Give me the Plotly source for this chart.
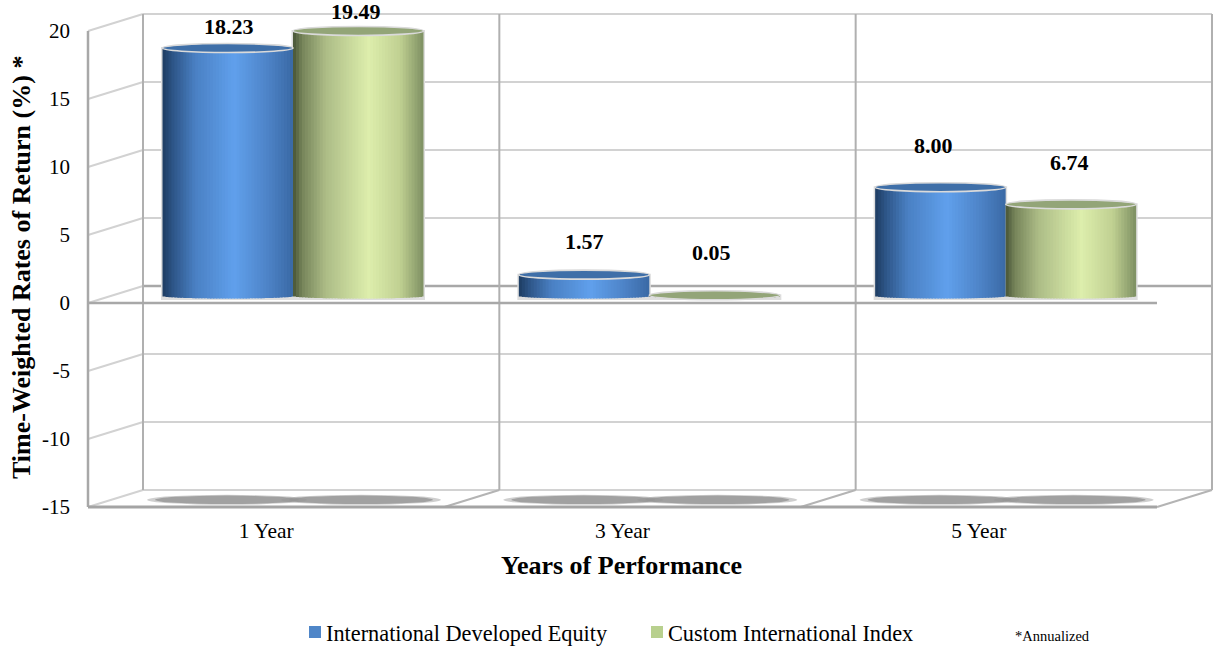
import plotly.graph_objects as go

categories = ["1 Year", "3 Year", "5 Year"]
intl_equity = [18.23, 1.57, 8.00]
custom_index = [19.49, 0.05, 6.74]
value_labels_equity = ["18.23", "1.57", "8.00"]
value_labels_custom = ["19.49", "0.05", "6.74"]
y_ticks = [20, 15, 10, 5, 0, -5, -10, -15]
series_names = ["International Developed Equity", "Custom International Index"]

W, H = 1214, 649
FONT = "Liberation Serif"
PX_X, PX_Y = 356.33, 13.6          # pixels per category / per value unit
FRONT_L, FRONT_ZERO = 88, 303      # front plane origin
L, R, T, B = 84, 1214, 8, 511      # plot box in pixels
DX, DY = 55 / PX_X, 17 / PX_Y      # depth of the "3D" box, in axis units
BAR_CX, BAR_ZERO = 293, 296        # pixel of the first group's centre and of bar zero
BAR_W = 130.5 / PX_X

x_rng = [-0.5 + (L - FRONT_L) / PX_X, -0.5 + (R - FRONT_L) / PX_X]
y_rng = [(FRONT_ZERO - B) / PX_Y, (FRONT_ZERO - T) / PX_Y]
x2_rng = [(L - BAR_CX) / PX_X, (R - BAR_CX) / PX_X]
y2_rng = [(BAR_ZERO - B) / PX_Y, (BAR_ZERO - T) / PX_Y]
dom_x = [L / W, R / W]
dom_y = [1 - B / H, 1 - T / H]


def ramp(stops, t):
    for (t0, c0), (t1, c1) in zip(stops, stops[1:]):
        if t <= t1:
            f = (t - t0) / (t1 - t0)
            return "rgb(%d,%d,%d)" % tuple(round(a + (b - a) * f) for a, b in zip(c0, c1))
    return "rgb(%d,%d,%d)" % stops[-1][1]


BLUE = [(0, (30, 60, 98)), (.08, (45, 85, 135)), (.25, (74, 128, 195)), (.55, (96, 160, 236)),
        (.8, (78, 132, 200)), (1, (58, 106, 165))]
GREEN = [(0, (72, 84, 54)), (.07, (118, 132, 90)), (.25, (172, 188, 134)), (.58, (221, 238, 172)),
         (.82, (192, 208, 146)), (1, (125, 143, 98))]

fig = go.Figure()
N = 44
bottom_b = 2.5 / PX_Y
cap_b = 4.5 / PX_Y
strip_w = BAR_W / N
shapes = []
series = [(intl_equity, BLUE, -1), (custom_index, GREEN, 1)]

for vals, stops, sign in series:
    left = -BAR_W if sign < 0 else 0
    fig.add_bar(x=categories, y=[v + 2 * bottom_b for v in vals], base=-1.6 * bottom_b, width=BAR_W + 3 / PX_X,
                offset=left - 1.5 / PX_X, xaxis="x2", yaxis="y2", marker=dict(color="#dedede", line_width=0),
                showlegend=False, hoverinfo="skip")

for s, (vals, stops, sign) in enumerate(series):
    left = -BAR_W if sign < 0 else 0
    for i in range(N):
        t = (i + .5) / N
        drop = bottom_b * (1 - (2 * t - 1) ** 2) ** .5
        ys = [v + drop for v in vals]
        fig.add_bar(x=categories, y=ys, base=-drop, width=strip_w + 1.5 / PX_X if i < N - 1 else strip_w,
                    offset=left + i * strip_w,
                    xaxis="x2", yaxis="y2", marker=dict(color=ramp(stops, t), line_width=0),
                    showlegend=False, hoverinfo="skip")
    cap_fill = "#3f6fa8" if s == 0 else "#93a578"
    for k, v in enumerate(vals):
        x0 = k + left
        shapes.append(dict(type="circle", xref="x2", yref="y2", x0=x0, x1=x0 + BAR_W, y0=v - cap_b, y1=v + cap_b,
                           fillcolor=cap_fill, line=dict(color="#dadada", width=1.6), layer="above"))

# legend entries
for name, col in zip(series_names, ["#4f86c8", "#b8d08e"]):
    fig.add_bar(x=categories, y=[None] * 3, name=name, marker=dict(color=col, line_width=0), xaxis="x2", yaxis="y2")


# box
def seg(x0, y0, x1, y1, color="#d2d2d2", width=2):
    return dict(type="line", xref="x", yref="y", x0=x0, y0=y0, x1=x1, y1=y1,
                line=dict(color=color, width=width), layer="below")


x_a, x_b = -0.5, 2.5
for v in y_ticks:
    back = "#a8a8a8" if v == 0 else "#d2d2d2"
    shapes.append(seg(x_a + DX, v + DY, x_b + DX, v + DY, back, 2.5 if v == 0 else 2))
    shapes.append(seg(x_a, v, x_a + DX, v + DY, "#d2d2d2", 2))
for k in range(4):
    shapes.append(seg(x_a + k + DX, -15 + DY, x_a + k + DX, 20 + DY, "#b0b0b0", 2))
for k in (1, 2, 3):
    shapes.append(seg(x_a + k, -15, x_a + k + DX, -15 + DY, "#b4b4b4", 2))
shapes.append(seg(x_a, -15, x_a, 20, "#a8a8a8", 2.5))
shapes.append(seg(x_a, -15, x_b, -15, "#a4a4a4", 3))
shapes.append(seg(x_a, 0, x_b, 0, "#a8a8a8", 2.5))

# floor shadows
shadow_y = -14.47
for k in range(len(categories)):
    for c in (-66 / PX_X, 68 / PX_X):
        for half_w, half_h, op in ((80, 5, .45), (72, 4.2, .8)):
            shapes.append(dict(type="circle", xref="x2", yref="y", x0=k + c - half_w / PX_X, x1=k + c + half_w / PX_X,
                               y0=shadow_y - half_h / PX_Y, y1=shadow_y + half_h / PX_Y,
                               fillcolor="#959595", opacity=op, line_width=0, layer="below"))

# value labels
lifts_e = [22, 33, 42]
lifts_c = [19, 43, 42]
shift_e = [1, 0, -7]
shift_c = [-2, -3, -1]
ann = []
for k in range(3):
    ann.append(dict(x=k - BAR_W / 2, y=intl_equity[k], xref="x2", yref="y2", text=value_labels_equity[k], showarrow=False,
                    yshift=lifts_e[k], xshift=shift_e[k], font=dict(family=FONT, size=22, color="black", weight="bold")))
    ann.append(dict(x=k + BAR_W / 2, y=custom_index[k], xref="x2", yref="y2", text=value_labels_custom[k], showarrow=False,
                    yshift=lifts_c[k], xshift=shift_c[k], font=dict(family=FONT, size=22, color="black", weight="bold")))

ann.append(dict(x=22 / W, y=1 - 268 / H, xref="paper", yref="paper", text="Time-Weighted Rates of Return (%) *", textangle=-90,
                xanchor="center", yanchor="middle",
                showarrow=False, font=dict(family=FONT, size=26, color="black", weight="bold")))
ann.append(dict(x=621 / W, y=1 - 565 / H, xref="paper", yref="paper", text="Years of Performance",
                xanchor="center", yanchor="middle",
                showarrow=False, font=dict(family=FONT, size=26, color="black", weight="bold")))
ann.append(dict(x=1052 / W, y=1 - 636 / H, xref="paper", yref="paper", text="*Annualized",
                xanchor="center", yanchor="middle",
                showarrow=False, font=dict(family=FONT, size=14.5, color="black")))

fig.update_layout(
    width=W, height=H, autosize=False, margin=dict(l=0, r=0, t=0, b=0, autoexpand=False),
    paper_bgcolor="white", plot_bgcolor="white", barmode="overlay", shapes=shapes, annotations=ann,
    font=dict(family=FONT, color="black"),
    xaxis=dict(domain=dom_x, range=x_rng, type="category", categoryorder="array", categoryarray=categories,
               tickmode="array", tickvals=categories, ticktext=categories, showgrid=False, zeroline=False, showline=False,
               ticks="", tickfont=dict(family=FONT, size=21.5, color="black"), ticklabelstandoff=4, anchor="y",
               automargin=False),
    yaxis=dict(domain=dom_y, range=y_rng, tickmode="array", tickvals=y_ticks, ticktext=[str(v) for v in y_ticks],
               showgrid=False, zeroline=False, showline=False, ticks="", automargin=False,
               tickfont=dict(family=FONT, size=21, color="black"), ticklabelstandoff=13, anchor="x"),
    xaxis2=dict(domain=dom_x, range=x2_rng, type="category", categoryorder="array", categoryarray=categories,
                overlaying="x", visible=False, anchor="y2"),
    yaxis2=dict(domain=dom_y, range=y2_rng, overlaying="y", visible=False, anchor="x2"),
    legend=dict(orientation="h", x=295 / W, y=1 - 632 / H, xanchor="left", yanchor="middle",
                font=dict(family=FONT, size=22.3, color="black"), bgcolor="rgba(0,0,0,0)",
                traceorder="normal", entrywidth=297, entrywidthmode="pixels", itemclick=False, itemdoubleclick=False),
    hovermode=False,
)

fig.write_html("out.html", config=dict(displayModeBar=False),
               post_script="document.body.style.margin='0';document.documentElement.style.overflow='hidden';"
                           "document.querySelectorAll('.legendtext').forEach(function(t){t.setAttribute('x',31);});")
